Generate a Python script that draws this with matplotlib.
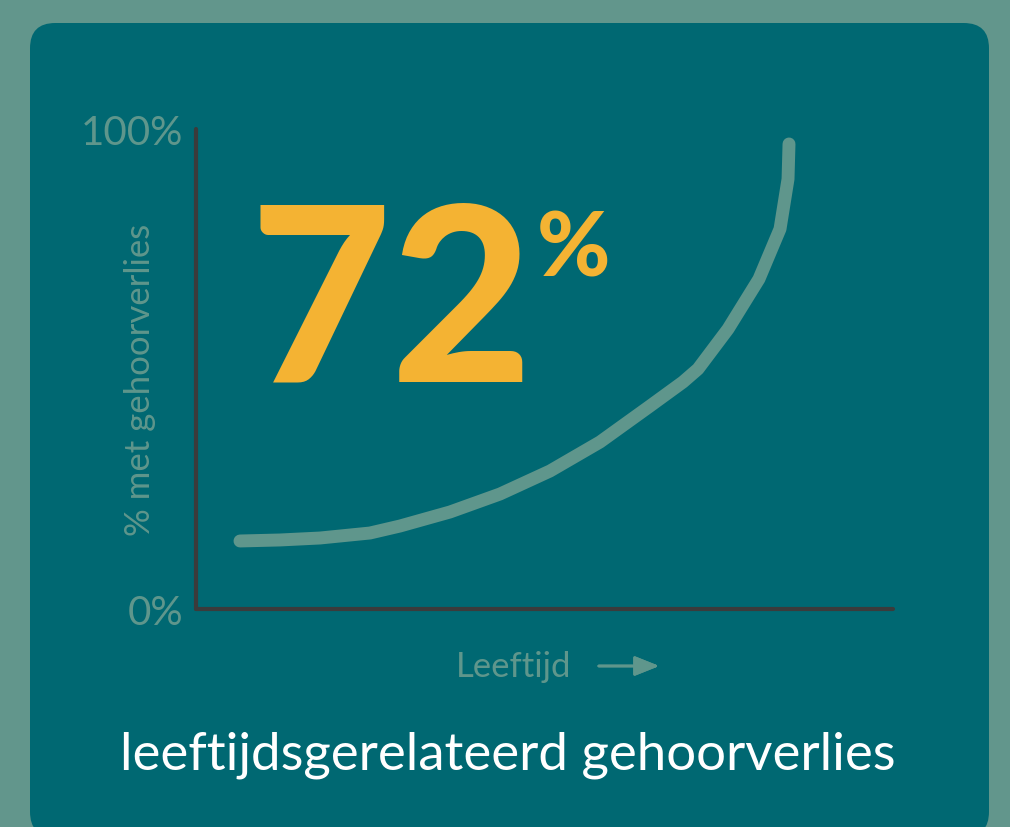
import matplotlib.pyplot as plt
from matplotlib.patches import FancyBboxPatch

# curve (x: age axis 0-100, y: % with hearing loss)
age = [6.31, 12.05, 17.79, 24.96, 29.27, 36.44, 43.62, 50.79, 57.96, 65.14,
       69.87, 72.02, 76.33, 80.77, 83.79, 84.94, 85.08]
pct = [14.17, 14.38, 14.79, 15.83, 17.29, 20.21, 23.96, 28.75, 34.79, 42.29,
       47.29, 50.00, 58.33, 68.75, 79.17, 89.58, 96.88]
ytick_vals = [0, 100]
ytick_labels = ['0%', '100%']
big_number = '72'

W, H = 1010, 828
outer = '#62968c'
inner = '#006872'
axcol = '#3b3b3b'
soft = '#5f968c'
orange = '#f4b333'

fig = plt.figure(figsize=(W / 100, H / 100), dpi=100)
fig.patch.set_facecolor(outer)

card = FancyBboxPatch((30 / W, -10 / H), 959 / W, (H - 24 + 10) / H,
                      boxstyle='round,pad=0,rounding_size=0.025',
                      transform=fig.transFigure, facecolor=inner, edgecolor='none',
                      mutation_aspect=W / H, zorder=-5)
fig.patches.append(card)

ax = fig.add_axes([196 / W, (H - 610) / H, 697 / W, 480 / H])
ax.set_facecolor('none')
ax.set_xlim(0, 100)
ax.set_ylim(0, 100)
for s in ax.spines.values():
    s.set_visible(False)

# axis lines with round ends
ax.plot([0, 0], [0, 100], color=axcol, lw=3, solid_capstyle='round', clip_on=False)
ax.plot([0, 100], [0, 0], color=axcol, lw=3, solid_capstyle='round', clip_on=False)

ax.plot(age, pct, color=soft, lw=9.3, solid_capstyle='round', solid_joinstyle='round',
        clip_on=False)

ax.set_xticks([])
ax.set_yticks(ytick_vals)
ax.set_yticklabels(ytick_labels, color=soft, fontsize=29, family='Lato')
ax.tick_params(axis='y', length=0, pad=9)

fig.text(140 / W, 1 - 380 / H, '% met gehoorverlies', rotation=90, color=soft,
         fontsize=25, family='Lato', ha='center', va='center')

fig.text(514 / W, 1 - 667 / H, 'Leeftijd', color=soft, fontsize=25, family='Lato',
         ha='center', va='center')
fig.add_artist(plt.annotate('', xy=(662 / W, 1 - 667 / H), xytext=(596 / W, 1 - 667 / H),
                            xycoords='figure fraction',
                            arrowprops=dict(arrowstyle='-|>,head_length=1.5,head_width=0.6',
                                            color=soft, lw=2.0)))

fig.text(508 / W, 1 - 755 / H, 'leeftijdsgerelateerd gehoorverlies', color='white',
         fontsize=38, family='Lato', ha='center', va='center')

fig.text(250 / W, 1 - 381 / H, big_number, color=orange, fontsize=176, family='Lato',
         fontweight='black', ha='left', va='baseline')
fig.text(537 / W, 1 - 277 / H, '%', color=orange, fontsize=64, family='Lato',
         fontweight='black', ha='left', va='baseline')

fig.savefig('out.png', dpi=100, facecolor=outer)
